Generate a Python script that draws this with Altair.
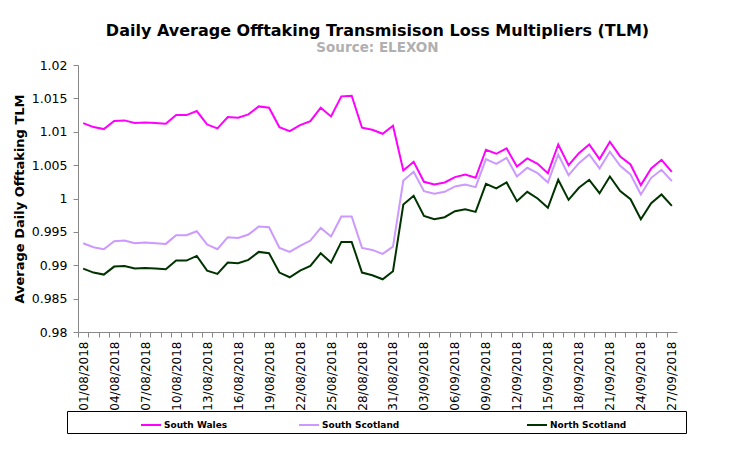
import altair as alt
import pandas as pd

dates = [d.strftime("%d/%m/%Y") for d in pd.date_range("2018-08-01", "2018-09-27", freq="D")]

south_wales = [1.0113, 1.0107, 1.0104, 1.0116, 1.0117, 1.0113, 1.0114, 1.0113, 1.0112, 1.0125,
               1.0125, 1.0131, 1.0111, 1.0105, 1.0122, 1.0121, 1.0126, 1.0138, 1.0136, 1.0107,
               1.0101, 1.0110, 1.0116, 1.0136, 1.0123, 1.0153, 1.0154, 1.0106, 1.0103, 1.0097,
               1.0109, 1.0042, 1.0055, 1.0025, 1.0021, 1.0024, 1.0032, 1.0036, 1.0031, 1.0073,
               1.0067, 1.0075, 1.0048, 1.0060, 1.0052, 1.0038, 1.0081, 1.0050, 1.0068, 1.0081,
               1.0059, 1.0085, 1.0063, 1.0051, 1.0020, 1.0045, 1.0058, 1.0040]
south_scotland = [0.9933, 0.9927, 0.9924, 0.9936, 0.9937, 0.9933, 0.9934, 0.9933, 0.9932, 0.9945,
                  0.9945, 0.9951, 0.9931, 0.9924, 0.9942, 0.9941, 0.9946, 0.9958, 0.9957, 0.9926,
                  0.9920, 0.9929, 0.9937, 0.9956, 0.9943, 0.9973, 0.9973, 0.9926, 0.9923, 0.9917,
                  0.9928, 1.0027, 1.0040, 1.0011, 1.0007, 1.0010, 1.0018, 1.0021, 1.0017, 1.0059,
                  1.0052, 1.0061, 1.0033, 1.0046, 1.0038, 1.0024, 1.0066, 1.0035, 1.0053, 1.0066,
                  1.0045, 1.0070, 1.0049, 1.0036, 1.0006, 1.0031, 1.0043, 1.0026]
north_scotland = [0.9895, 0.9889, 0.9886, 0.9898, 0.9899, 0.9895, 0.9896, 0.9895, 0.9894, 0.9907,
                  0.9907, 0.9914, 0.9892, 0.9887, 0.9904, 0.9903, 0.9908, 0.9920, 0.9918, 0.9889,
                  0.9882, 0.9892, 0.9899, 0.9918, 0.9904, 0.9935, 0.9935, 0.9889, 0.9885, 0.9879,
                  0.9891, 0.9991, 1.0004, 0.9974, 0.9969, 0.9972, 0.9981, 0.9984, 0.9980, 1.0022,
                  1.0015, 1.0024, 0.9996, 1.0010, 1.0000, 0.9986, 1.0028, 0.9998, 1.0016, 1.0028,
                  1.0008, 1.0033, 1.0011, 0.9999, 0.9969, 0.9993, 1.0006, 0.9989]

series_names = ["South Wales", "South Scotland", "North Scotland"]
series_colors = ["#FF00FF", "#CC99FF", "#003300"]
y_ticks = [0.98, 0.985, 0.99, 0.995, 1.0, 1.005, 1.01, 1.015, 1.02]

rows = []
for name, vals in zip(series_names, [south_wales, south_scotland, north_scotland]):
    for i, v in enumerate(vals):
        rows.append({"idx": i, "date": dates[i], "series": name, "value": v})
df = pd.DataFrame(rows)

n = len(dates)
W, H = 599, 267
step = W / n

label_js = "[" + ",".join("'" + d + "'" for d in dates) + "]"
blank = "\u2800"

chart = alt.Chart(df).mark_line(strokeWidth=2).encode(
    x=alt.X("idx:Q",
            scale=alt.Scale(domain=[-0.5, n - 0.5], nice=False, zero=False),
            axis=alt.Axis(
                title=None,
                values=list(range(n + 1)),
                labelExpr=f"datum.value % 3 == 0 && datum.value < {n} ? {label_js}[datum.value] : ''",
                labelAngle=270,
                labelAlign="right",
                labelBaseline="middle",
                labelFont="DejaVu Sans",
                labelFontSize=12,
                labelColor="#000000",
                labelPadding=4,
                labelOverlap=False,
                labelFlush=False,
                tickOffset=-step / 2,
                labelOffset=step / 2,
                tickSize=5,
                tickColor="#888888",
                domainColor="#888888",
                grid=False,
            )),
    y=alt.Y("value:Q",
            scale=alt.Scale(domain=[0.98, 1.02], nice=False, zero=False),
            axis=alt.Axis(
                title="Average Daily Offtaking TLM",
                titleFont="DejaVu Sans",
                titleFontSize=13,
                titleFontWeight="bold",
                titleColor="#000000",
                titlePadding=5,
                values=y_ticks,
                format=".3~f",
                labelFont="DejaVu Sans",
                labelFontSize=12.5,
                labelColor="#000000",
                labelPadding=6,
                tickSize=5,
                tickColor="#888888",
                domainColor="#888888",
                grid=False,
            )),
    color=alt.Color("series:N",
                    scale=alt.Scale(domain=series_names, range=series_colors),
                    legend=alt.Legend(
                        title=None,
                        orient="none",
                        legendX=-11,
                        legendY=346,
                        direction="horizontal",
                        columns=3,
                        symbolType="stroke",
                        symbolSize=400,
                        symbolStrokeWidth=2,
                        symbolOffset=70,
                        labelOffset=2,
                        columnPadding=0,
                        labelLimit=400,
                        labelFont="DejaVu Sans",
                        labelFontSize=9,
                        labelFontWeight="bold",
                        labelColor="#000000",
                        labelExpr=f"datum.label == 'South Scotland' ? datum.label + '{blank * 8}' : datum.label == 'North Scotland' ? datum.label + '{blank * 8}' : datum.label",
                        strokeColor="#000000",
                        padding=3,
                    )),
    order=alt.Order("idx:Q"),
).properties(
    width=W,
    height=H,
    title=alt.TitleParams(
        text="Daily Average Offtaking Transmisison Loss Multipliers (TLM)",
        subtitle="Source: ELEXON",
        font="DejaVu Sans",
        fontSize=16,
        fontWeight="bold",
        color="#000000",
        subtitleFont="DejaVu Sans",
        subtitleFontSize=13.5,
        subtitleFontWeight="bold",
        subtitleColor="#B0B0B0",
        subtitlePadding=2,
        anchor="middle",
        offset=5,
    ),
    autosize=alt.AutoSizeParams(type="none"),
    padding={"left": 70, "top": 57, "right": 44, "bottom": 110},
).configure_view(strokeWidth=0)

chart.save("out.html", embed_options={"renderer": "svg", "actions": False})
